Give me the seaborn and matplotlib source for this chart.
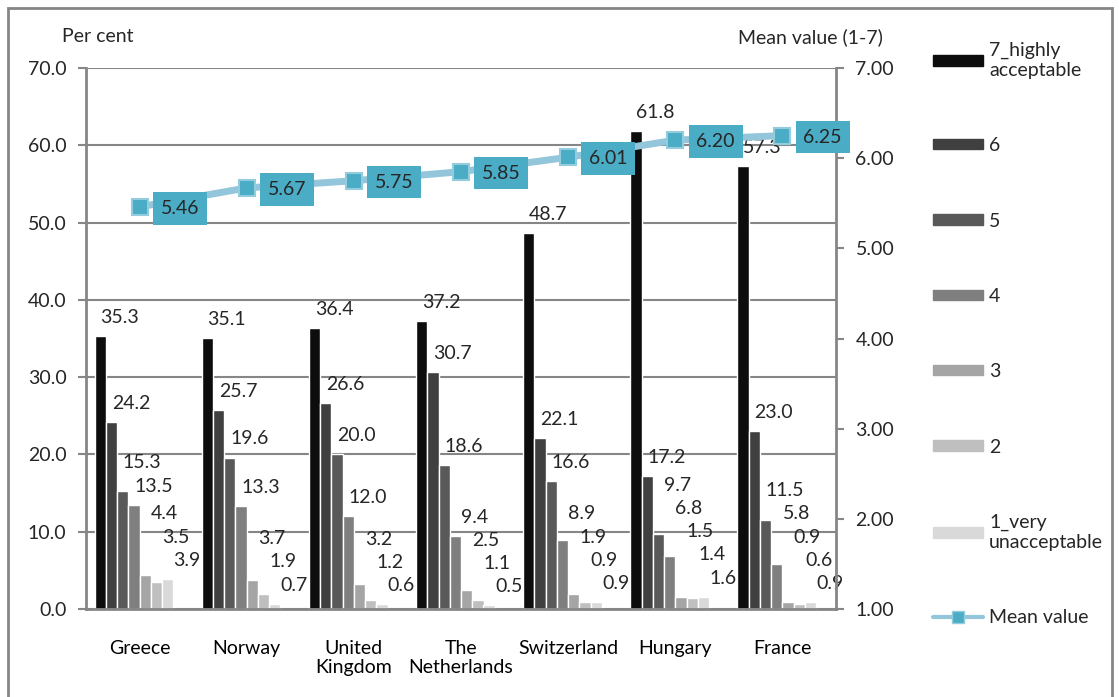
import pandas as pd
import numpy as np
import matplotlib
matplotlib.use('Agg')
import matplotlib.pyplot as plt
import matplotlib.patches as mpatches
from matplotlib.lines import Line2D
import seaborn as sns

sns.set_theme(style="white")
plt.rcParams['font.family'] = ['Lato', 'DejaVu Sans']

# --- data ---
countries = ["Greece", "Norway", "United\nKingdom", "The\nNetherlands",
             "Switzerland", "Hungary", "France"]
levels = ["7_highly\nacceptable", "6", "5", "4", "3", "2", "1_very\nunacceptable"]
level_colors = ["#0D0D0D", "#404040", "#595959", "#7F7F7F", "#A5A5A5", "#BFBFBF", "#D9D9D9"]

pct_7 = [35.3, 35.1, 36.4, 37.2, 48.7, 61.8, 57.3]
pct_6 = [24.2, 25.7, 26.6, 30.7, 22.1, 17.2, 23.0]
pct_5 = [15.3, 19.6, 20.0, 18.6, 16.6, 9.7, 11.5]
pct_4 = [13.5, 13.3, 12.0, 9.4, 8.9, 6.8, 5.8]
pct_3 = [4.4, 3.7, 3.2, 2.5, 1.9, 1.5, 0.9]
pct_2 = [3.5, 1.9, 1.2, 1.1, 0.9, 1.4, 0.6]
pct_1 = [3.9, 0.7, 0.6, 0.5, 0.9, 1.6, 0.9]
mean_value = [5.46, 5.67, 5.75, 5.85, 6.01, 6.20, 6.25]

series = [pct_7, pct_6, pct_5, pct_4, pct_3, pct_2, pct_1]
rows = []
for lev, vals in zip(levels, series):
    for c, v in zip(countries, vals):
        rows.append({"country": c, "level": lev, "pct": v})
df = pd.DataFrame(rows)

# an empty 8th slot in every group, as in the original Excel chart
hue_order = levels + ["_pad"]

FS = 14
gray = "#868686"

fig = plt.figure(figsize=(11.19, 6.97), dpi=100)
ax = fig.add_axes([86 / 1119, 1 - 609 / 697, 750 / 1119, 541 / 697])

sns.barplot(data=df, x="country", y="pct", hue="level", hue_order=hue_order,
            palette=level_colors + ["white"], width=0.84, saturation=1,
            legend=False, ax=ax, order=countries)

ax.set_ylim(0, 70)
ax.set_xlim(-0.5, len(countries) - 0.5)
yt = np.arange(0, 71, 10)
ax.set_yticks(yt)
ax.set_yticklabels([f"{t:.1f}" for t in yt])
ax.yaxis.grid(True, color=gray, linewidth=1.5)
ax.set_axisbelow(True)
ax.set_xlabel("")
ax.set_ylabel("")
ax.set_xticks(np.arange(len(countries)))
ax.set_xticklabels(countries)
ax.tick_params(axis="x", length=0, pad=22, labelsize=FS, colors="black")
ax.set_xticks(np.arange(len(countries) + 1) - 0.5, minor=True)
ax.tick_params(axis="x", which="minor", length=6, width=1.5, color=gray)
ax.tick_params(axis="y", length=6, width=1.5, color=gray, labelsize=FS, pad=8)
for s in ["top", "right"]:
    ax.spines[s].set_visible(False)
for s in ["left", "bottom"]:
    ax.spines[s].set_color(gray)
    ax.spines[s].set_linewidth(2)

# bar value labels: above-right of each bar, pushed up so they don't collide
off, gap = 2.4, 3.0
for gi in range(len(countries)):
    xs = [ax.containers[li].patches[gi].get_x() + ax.containers[li].patches[gi].get_width() / 2
          for li in range(len(levels))]
    vals = [s[gi] for s in series]
    ys = [0.0] * len(vals)
    for li in reversed(range(len(vals))):
        ys[li] = vals[li] + off
        if li < len(vals) - 1:
            ys[li] = max(ys[li], ys[li + 1] + gap)
    for x, y, v in zip(xs, ys, vals):
        ax.annotate(f"{v:.1f}", (x, y), xytext=(14, 0), textcoords="offset points",
                    ha="center", va="center", fontsize=FS)

# mean value on secondary axis
ax2 = ax.twinx()
x_idx = np.arange(len(countries))
sns.lineplot(x=x_idx, y=mean_value, ax=ax2, color="#93C6DA", linewidth=5,
             marker="s", markersize=12, markerfacecolor="#4BACC6",
             markeredgecolor="#93CDDD", markeredgewidth=1.5, zorder=5)
ax2.set_ylim(1, 7)
yt2 = np.arange(1, 7.01, 1)
ax2.set_yticks(yt2)
ax2.set_yticklabels([f"{t:.2f}" for t in yt2])
ax2.tick_params(axis="y", length=6, width=1.5, color=gray, labelsize=FS, pad=8)
for s in ["top", "left", "bottom"]:
    ax2.spines[s].set_visible(False)
ax2.spines["right"].set_color(gray)
ax2.spines["right"].set_linewidth(2)
ax2.grid(False)
ax2.set_xlim(-0.5, len(countries) - 0.5)

for xi, m in zip(x_idx, mean_value):
    ax2.annotate(f"{m:.2f}", (xi, m), xytext=(29, -1), textcoords="offset points",
                 ha="center", va="center", fontsize=FS, zorder=6,
                 bbox=dict(boxstyle="square,pad=0.4", fc="#4BACC6", ec="none"))

fig.text(62 / 1119, 1 - 37 / 697, "Per cent", fontsize=FS, va="center", ha="left")
fig.text(738 / 1119, 1 - 37 / 697, "Mean value (1-7)", fontsize=FS, va="center", ha="left")

# legend
handles = [mpatches.Patch(color=c) for c in level_colors]
handles.append(Line2D([], [], color="#93C6DA", linewidth=3, marker="s", markersize=9,
                      markerfacecolor="#4BACC6", markeredgecolor="#93CDDD"))
fig.legend(handles, levels + ["Mean value"], loc="upper left",
           bbox_to_anchor=(925 / 1119, 1 - 34 / 697), frameon=False,
           fontsize=FS, handlelength=2.6, handleheight=0.45,
           labelspacing=3.0, handletextpad=0.3, borderaxespad=0)

# outer frame
fig.patches.append(mpatches.Rectangle((8 / 1119, -0.1), 1104 / 1119, 1.1 - 8 / 697,
                                      transform=fig.transFigure, fill=False,
                                      edgecolor=gray, linewidth=2))

fig.savefig("out.png", dpi=100)
